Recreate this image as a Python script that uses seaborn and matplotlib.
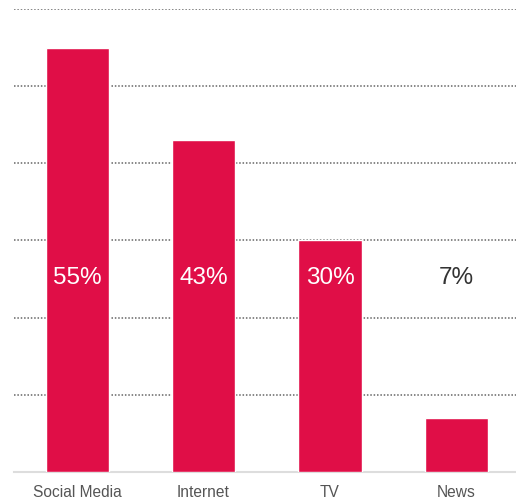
import matplotlib
matplotlib.use("Agg")
import matplotlib.pyplot as plt
import seaborn as sns
import pandas as pd

# data
categories = ["Social Media", "Internet", "TV", "News"]
shares = [55, 43, 30, 7]
label_colors = ["white", "white", "white", "#333333"]

df = pd.DataFrame({"Source": categories, "Share": shares})

sns.set_style("white")
plt.rcParams["font.family"] = ["Liberation Sans", "DejaVu Sans"]

fig = plt.figure(figsize=(5.16, 5.02), dpi=100)
ax = fig.add_axes([0.027, 0.058, 0.98, 0.922])

sns.barplot(data=df, x="Source", y="Share", color="#E00E47", width=0.5,
            saturation=1, ax=ax, zorder=3)

# dotted gridlines
ax.set_ylim(0, 60)
ax.set_yticks([10, 20, 30, 40, 50, 60])
ax.yaxis.grid(True, linestyle=(0, (1, 1.2)), color="#666666", linewidth=1.1, zorder=0)
ax.set_yticklabels([])
ax.tick_params(axis="y", length=0)
ax.tick_params(axis="x", length=0, labelsize=11.2, labelcolor="#555555", pad=9)

for side in ["top", "right", "left"]:
    ax.spines[side].set_visible(False)
ax.spines["bottom"].set_color("#dddddd")
ax.spines["bottom"].set_linewidth(1.5)

ax.set_xlabel("")
ax.set_ylabel("")
ax.set_xlim(-0.5, 3.5)

# value labels at a fixed height
for i, v in enumerate(shares):
    ax.text(i, 25.2, f"{v}%", ha="center", va="center", fontsize=17.5,
            color=label_colors[i], zorder=4)

fig.savefig("out.png", dpi=100)
